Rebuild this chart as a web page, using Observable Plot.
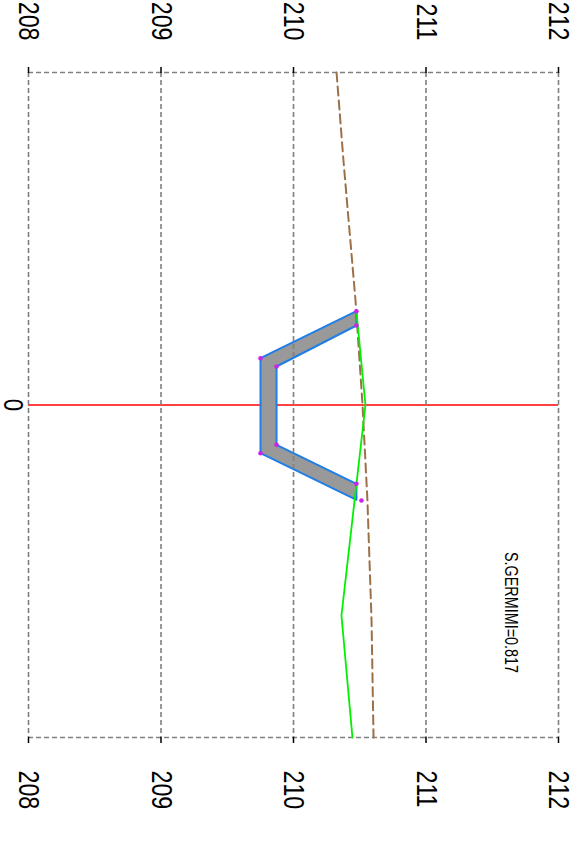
<!DOCTYPE html>
<html><head><meta charset="utf-8">
<script src="https://cdn.jsdelivr.net/npm/d3@7"></script>
<script src="https://cdn.jsdelivr.net/npm/@observablehq/plot@0.6"></script>
<style>
body{margin:0;background:#fff;}
#chart svg{display:block;}
</style>
</head><body><div id="chart"></div>
<script>
// Elevation axis (horizontal in the picture) and offset axis (vertical)
const elevTicks = [208, 209, 210, 211, 212];
const elevDomain = [208, 212];
const offsetDomain = [-10, 10];
const offsetTicks = [0];
const offsetTickLabels = ["0"];

// Structure cross-section (closed outline)
const structElev   = [210.475, 209.751, 209.751, 210.475, 210.475, 209.872, 209.872, 210.475];
const structOffset = [-2.821, -1.408, 1.450, 2.851, 2.370, 1.197, -1.158, -2.391];

// Vertices marked with dots
const vertElev   = [210.475, 210.475, 209.751, 209.872, 209.751, 209.872, 210.475, 210.513];
const vertOffset = [-2.821, -2.391, -1.408, -1.158, 1.450, 1.197, 2.370, 2.872];

// Ground line (green)
const groundElev   = [210.475, 210.543, 210.362, 210.445];
const groundOffset = [-2.812, 0, 6.331, 10];

// Design line (brown dashed)
const designElev   = [210.325, 210.377, 210.468, 210.521, 210.558, 210.589, 210.604];
const designOffset = [-10, -7.353, -3.143, 0, 2.872, 6.481, 10];

// Annotation
const noteText = ["S.GERMIMI=0.817"];
const noteElev = [211.64];
const noteOffset = [6.24];

const struct = structElev.map((e, i) => ({e, o: structOffset[i]}));
const verts = vertElev.map((e, i) => ({e, o: vertOffset[i]}));
const ground = groundElev.map((e, i) => ({e, o: groundOffset[i]}));
const design = designElev.map((e, i) => ({e, o: designOffset[i]}));
const notes = noteText.map((t, i) => ({t, e: noteElev[i], o: noteOffset[i]}));
const offsetLabelData = offsetTicks.map((o, i) => ({o, t: offsetTickLabels[i]}));

const font = "'Liberation Sans', Arial, sans-serif";
const gridStyle = {stroke: "#808080", strokeWidth: 1.6, strokeDasharray: "5,3"};

const chart = Plot.plot({
  width: 585,
  height: 842,
  marginLeft: 28,
  marginRight: 27,
  marginTop: 72,
  marginBottom: 105,
  style: {background: "#fff", fontFamily: font},
  x: {domain: elevDomain, axis: null},
  y: {domain: offsetDomain, reverse: true, axis: null},
  marks: [
    Plot.ruleY(offsetTicks, {stroke: "#ff0000", strokeWidth: 1.6}),
    Plot.line(struct, {x: "e", y: "o", curve: "linear-closed", fill: "#999999", stroke: "#1f7fe8", strokeWidth: 2}),
    Plot.ruleX(elevTicks, gridStyle),
    Plot.ruleY(offsetDomain, gridStyle),
    Plot.axisX(elevTicks, {anchor: "top", tickSize: 6, tickFormat: () => "", label: null, stroke: "#000", strokeWidth: 1.5}),
    Plot.axisX(elevTicks, {anchor: "bottom", tickSize: 6, tickFormat: () => "", label: null, stroke: "#000", strokeWidth: 1.5}),
    Plot.text(elevTicks, {x: d => d, frameAnchor: "top", dy: -32, rotate: 90, textAnchor: "end", lineAnchor: "middle", fontSize: 29, fill: "#000", text: d => String(d)}),
    Plot.text(elevTicks, {x: d => d, frameAnchor: "bottom", dy: 33, rotate: 90, textAnchor: "start", lineAnchor: "middle", fontSize: 29, fill: "#000", text: d => String(d)}),
    Plot.text(offsetLabelData, {y: "o", text: "t", frameAnchor: "left", dx: -16, rotate: 90, textAnchor: "middle", lineAnchor: "middle", fontSize: 28, fill: "#000"}),
    Plot.line(design, {x: "e", y: "o", stroke: "#9c7048", strokeWidth: 2, strokeDasharray: "9,5"}),
    Plot.line(ground, {x: "e", y: "o", stroke: "#00f000", strokeWidth: 1.8}),
    Plot.dot(verts, {x: "e", y: "o", r: 2.3, fill: "#cc22ee", stroke: "none"}),
    Plot.text(notes, {x: "e", y: "o", text: "t", rotate: 90, textAnchor: "middle", lineAnchor: "middle", fontSize: 18, fill: "#000"})
  ]
});
// condense the rotated labels along their reading direction (narrow type as in the reference)
d3.select(chart).selectAll("text").each(function() {
  const t = this.getAttribute("transform");
  if (t && t.includes("rotate")) this.setAttribute("transform", t + " scale(0.8,1)");
});
document.getElementById("chart").appendChild(chart);
</script>
</body></html>
